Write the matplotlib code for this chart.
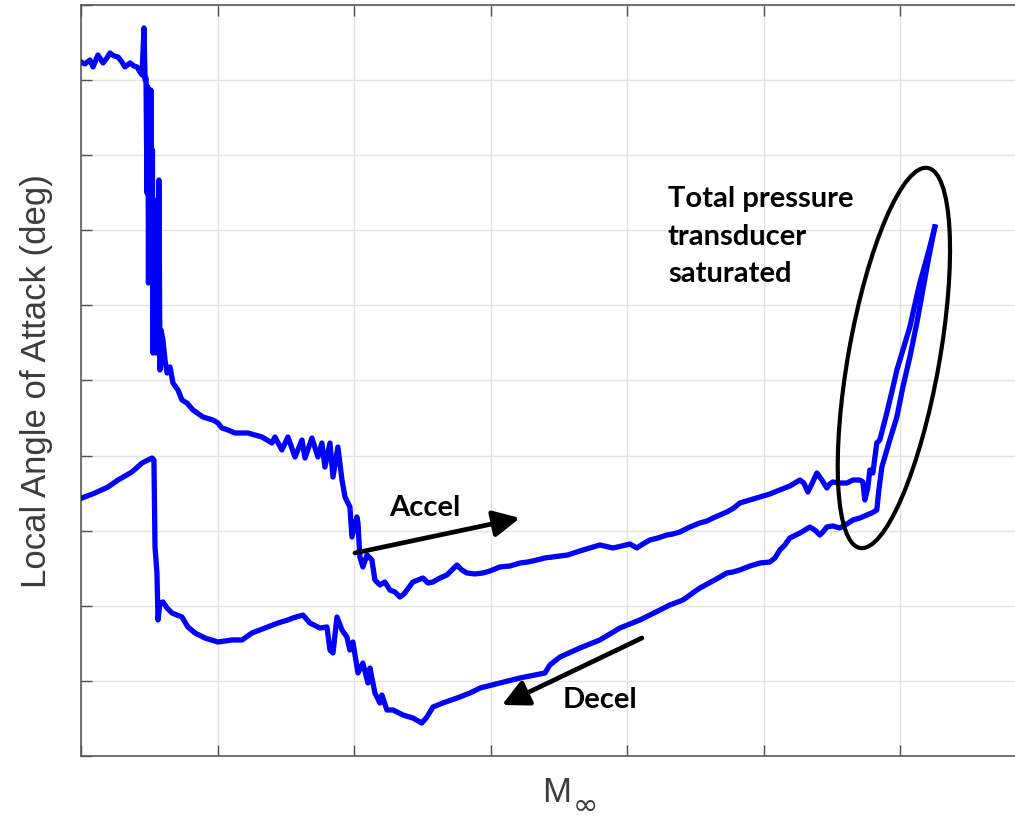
import matplotlib
matplotlib.use("Agg")
import matplotlib.pyplot as plt
from matplotlib.patches import Ellipse
from matplotlib.transforms import ScaledTranslation

# ---------------- data (arbitrary units) ----------------
accel_x = [0.000, 0.029, 0.066, 0.088, 0.124, 0.161, 0.190, 0.212, 0.242, 0.271, 0.300, 0.322, 0.359,
           0.388, 0.410, 0.432, 0.447, 0.461, 0.469, 0.476, 0.483, 0.490, 0.494, 0.498, 0.505, 0.512,
           0.520, 0.523, 0.527, 0.534, 0.542, 0.549, 0.556, 0.564, 0.571, 0.578, 0.586, 0.600, 0.615,
           0.630, 0.652, 0.673, 0.710, 0.739, 0.776, 0.820, 0.893, 0.966, 1.003, 1.032, 1.076, 1.127,
           1.223, 1.325, 1.398, 1.420, 1.471, 1.515, 1.567, 1.618, 1.640, 1.691, 1.735, 1.764, 1.786,
           1.823, 1.845, 1.881, 1.911, 1.933, 1.955, 1.969, 1.984, 1.991, 2.020, 2.028, 2.042, 2.064,
           2.094, 2.130, 2.152, 2.189, 2.225, 2.262, 2.299, 2.335, 2.365, 2.387, 2.430, 2.467, 2.504,
           2.540, 2.577, 2.628, 2.679, 2.716, 2.753, 2.789, 2.826, 2.884, 2.943, 2.994, 3.067, 3.141,
           3.214, 3.272, 3.338, 3.397, 3.455, 3.507, 3.565, 3.653, 3.726, 3.799, 3.895, 3.960, 4.019,
           4.070, 4.114, 4.165, 4.224, 4.290, 4.334, 4.385, 4.458, 4.531, 4.583, 4.627, 4.678, 4.729,
           4.780, 4.824, 4.898, 4.971, 5.044, 5.117, 5.190, 5.264, 5.293, 5.322, 5.351, 5.388, 5.425,
           5.461, 5.483, 5.505, 5.556, 5.608, 5.652, 5.703, 5.725, 5.739, 5.761, 5.776, 5.798, 5.827,
           5.849, 5.900, 5.937, 5.974, 6.018, 6.069, 6.105, 6.142, 6.179, 6.215, 6.237, 6.252]
accel_y = [9.241, 9.215, 9.268, 9.175, 9.335, 9.228, 9.295, 9.361, 9.321, 9.308, 9.241, 9.175, 9.228,
           9.188, 9.175, 9.108, 9.068, 9.694, 9.002, 9.028, 7.497, 8.908, 6.299, 8.469, 6.472, 8.868,
           6.512, 8.070, 5.366, 7.404, 6.072, 5.366, 6.738, 5.673, 7.670, 5.140, 5.673, 5.539, 5.273,
           5.100, 5.180, 4.967, 4.874, 4.741, 4.700, 4.607, 4.514, 4.474, 4.434, 4.368, 4.341, 4.301,
           4.301, 4.248, 4.168, 4.248, 4.075, 4.248, 3.981, 4.208, 3.968, 4.234, 3.981, 4.168, 3.848,
           4.168, 3.715, 4.115, 3.675, 3.449, 3.369, 3.316, 2.916, 2.969, 3.183, 3.103, 2.650, 2.517,
           2.677, 2.610, 2.344, 2.277, 2.317, 2.210, 2.184, 2.117, 2.157, 2.210, 2.317, 2.344, 2.370,
           2.304, 2.317, 2.370, 2.410, 2.477, 2.543, 2.477, 2.437, 2.424, 2.437, 2.463, 2.517, 2.530,
           2.570, 2.583, 2.610, 2.637, 2.650, 2.663, 2.677, 2.730, 2.770, 2.810, 2.770, 2.796, 2.823,
           2.770, 2.823, 2.876, 2.903, 2.943, 2.956, 2.983, 3.049, 3.103, 3.129, 3.169, 3.209, 3.249,
           3.302, 3.369, 3.409, 3.449, 3.489, 3.542, 3.595, 3.675, 3.635, 3.515, 3.622, 3.768, 3.675,
           3.569, 3.622, 3.649, 3.635, 3.635, 3.675, 3.675, 3.649, 3.409, 3.569, 3.808, 3.768, 4.168,
           4.208, 4.567, 4.847, 5.140, 5.407, 5.713, 6.006, 6.299, 6.538, 6.778, 6.938, 7.044]

decel_x = [6.252, 6.237, 6.201, 6.164, 6.120, 6.069, 6.018, 5.974, 5.922, 5.864, 5.842, 5.827, 5.791,
           5.754, 5.703, 5.652, 5.608, 5.556, 5.505, 5.461, 5.432, 5.410, 5.373, 5.337, 5.264, 5.190,
           5.154, 5.117, 5.081, 5.044, 4.971, 4.898, 4.824, 4.773, 4.729, 4.641, 4.531, 4.407, 4.312,
           4.239, 4.092, 3.946, 3.799, 3.653, 3.507, 3.433, 3.397, 3.360, 3.214, 3.067, 2.921, 2.848,
           2.753, 2.650, 2.577, 2.533, 2.496, 2.430, 2.357, 2.284, 2.240, 2.203, 2.189, 2.152, 2.116,
           2.101, 2.064, 2.028, 1.991, 1.969, 1.947, 1.911, 1.874, 1.845, 1.823, 1.801, 1.750, 1.676,
           1.625, 1.552, 1.515, 1.442, 1.347, 1.252, 1.179, 1.105, 1.003, 0.908, 0.835, 0.783, 0.739,
           0.666, 0.630, 0.600, 0.578, 0.564, 0.556, 0.542, 0.534, 0.520, 0.447, 0.373, 0.271, 0.198,
           0.102, 0.007]
decel_y = [7.044, 6.911, 6.578, 6.205, 5.766, 5.313, 4.914, 4.514, 4.208, 3.848, 3.542, 3.276, 3.236,
           3.209, 3.169, 3.143, 3.089, 3.036, 3.063, 3.049, 2.983, 2.943, 3.009, 3.049, 2.969, 2.903,
           2.810, 2.743, 2.637, 2.583, 2.570, 2.530, 2.477, 2.450, 2.437, 2.344, 2.237, 2.077, 2.011,
           1.944, 1.811, 1.704, 1.545, 1.438, 1.318, 1.212, 1.105, 1.092, 1.039, 0.972, 0.905, 0.839,
           0.772, 0.706, 0.652, 0.519, 0.439, 0.506, 0.546, 0.613, 0.613, 0.812, 0.706, 0.839, 1.172,
           0.972, 1.238, 1.105, 1.518, 1.411, 1.585, 1.678, 1.851, 1.372, 1.411, 1.718, 1.704, 1.771,
           1.877, 1.838, 1.811, 1.771, 1.704, 1.638, 1.545, 1.545, 1.518, 1.571, 1.638, 1.718, 1.851,
           1.904, 1.971, 2.051, 2.037, 1.811, 2.437, 2.783, 3.941, 3.968, 3.901, 3.782, 3.675, 3.582,
           3.502, 3.435]

x_ticks = [0, 1, 2, 3, 4, 5, 6, 7]
y_ticks = [0, 1, 2, 3, 4, 5, 6, 7, 8, 9, 10]

annot_text = "Total pressure\ntransducer\nsaturated"

# ---------------- figure ----------------
W, H, DPI = 1015, 826, 100
fig = plt.figure(figsize=(W / DPI, H / DPI), dpi=DPI)
ax_w_px, ax_h_px = 1037 - 81, 756 - 5
ax = fig.add_axes([81 / W, (H - 756) / H, ax_w_px / W, ax_h_px / H])

ax.plot(accel_x, accel_y, color="#0000ff", lw=3.8, solid_joinstyle="round", zorder=3)
ax.plot(decel_x, decel_y, color="#0000ff", lw=3.8, solid_joinstyle="round", zorder=3)

ax.set_xlim(0, 7)
ax.set_ylim(0, 10)
ax.set_xticks(x_ticks)
ax.set_yticks(y_ticks)
ax.set_xticklabels([])
ax.set_yticklabels([])
ax.grid(True, color="#e3e3e3", lw=1.0, zorder=0)
ax.set_axisbelow(True)
ax.tick_params(direction="in", length=8, width=1.0, color="#4d4d4d",
               top=True, right=True)
for s in ax.spines.values():
    s.set_color("#5a5a5a")
    s.set_linewidth(1.2)

label_font = ["Liberation Sans", "DejaVu Sans"]
ax.text((37 - 81) / ax_w_px, (756 - 381) / ax_h_px, "Local Angle of Attack (deg)",
        transform=ax.transAxes, rotation=90, fontsize=25, color="#3c3c3c",
        family=label_font, ha="center", va="center")
ax.text((557 - 81) / ax_w_px, -(792 - 756) / ax_h_px, "M",
        transform=ax.transAxes, fontsize=25, color="#3c3c3c", family=label_font,
        ha="center", va="center")
ax.text((585 - 81) / ax_w_px, -(806 - 756) / ax_h_px, "\u221e",
        transform=ax.transAxes, fontsize=22, color="#3c3c3c", family=["DejaVu Sans"],
        ha="center", va="center")

bold = dict(family="Lato", weight="bold", color="black")
ax.text(4.297, 7.59, annot_text, fontsize=21, va="top", ha="left", linespacing=1.55, **bold)
ax.text(2.518, 3.302, "Accel", fontsize=21, ha="center", va="center", **bold)
ax.text(3.799, 0.746, "Decel", fontsize=21, ha="center", va="center", **bold)

arrow = dict(arrowstyle="-|>,head_length=0.8,head_width=0.4", lw=3.4, color="black",
             shrinkA=0, shrinkB=0, mutation_scale=20)
ax.annotate("", xy=(3.214, 3.169), xytext=(2.006, 2.703), arrowprops=arrow, zorder=4)
ax.annotate("", xy=(3.082, 0.679), xytext=(4.107, 1.571), arrowprops=arrow, zorder=4)

ell_tr = fig.dpi_scale_trans + ScaledTranslation(5.952, 5.300, ax.transData)
ax.add_patch(Ellipse((0, 0), 0.91, 3.86, angle=-10.1, fill=False, ec="black", lw=3.0,
                     transform=ell_tr, zorder=4))

fig.savefig("out.png", dpi=DPI)
